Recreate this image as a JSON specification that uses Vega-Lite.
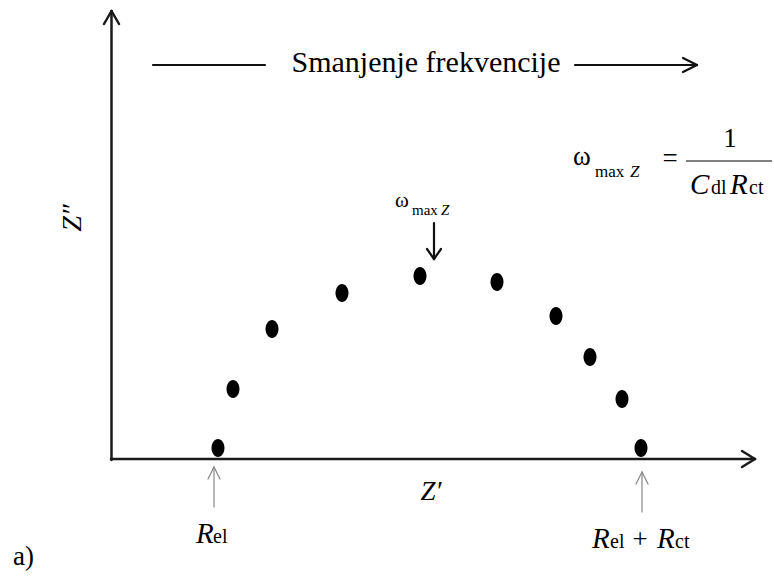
{
  "$schema": "https://vega.github.io/schema/vega-lite/v6.json",
  "width": 774,
  "height": 576,
  "autosize": {"type": "fit", "contains": "padding"},
  "padding": 0,
  "background": "white",
  "config": {"view": {"stroke": null}, "text": {"font": "Liberation Serif", "color": "black"}},
  "datasets": {
    "axes": [
      {"x": 111.5, "y": 460, "x2": 111.5, "y2": 11},
      {"x": 104, "y": 24, "x2": 111.5, "y2": 11},
      {"x": 119, "y": 24, "x2": 111.5, "y2": 11},
      {"x": 111, "y": 459, "x2": 755, "y2": 459},
      {"x": 742, "y": 451, "x2": 755, "y2": 459},
      {"x": 742, "y": 467, "x2": 755, "y2": 459}
    ],
    "toparrow": [
      {"x": 153, "y": 65, "x2": 265, "y2": 65},
      {"x": 575, "y": 65, "x2": 697, "y2": 65},
      {"x": 683, "y": 58, "x2": 697, "y2": 65},
      {"x": 683, "y": 72, "x2": 697, "y2": 65},
      {"x": 434, "y": 223, "x2": 434, "y2": 259},
      {"x": 427, "y": 249, "x2": 434, "y2": 259},
      {"x": 441, "y": 249, "x2": 434, "y2": 259}
    ],
    "grayarrows": [
      {"x": 214, "y": 467, "x2": 214, "y2": 507},
      {"x": 208, "y": 479, "x2": 214, "y2": 467},
      {"x": 220, "y": 479, "x2": 214, "y2": 467},
      {"x": 642, "y": 472, "x2": 642, "y2": 512},
      {"x": 636, "y": 484, "x2": 642, "y2": 472},
      {"x": 648, "y": 484, "x2": 642, "y2": 472}
    ],
    "fraction": [
      {"x": 686, "y": 161, "x2": 772, "y2": 161}
    ],
    "points": [
      {"x": 218, "y": 448},
      {"x": 233, "y": 389},
      {"x": 272, "y": 329},
      {"x": 342, "y": 293},
      {"x": 420, "y": 276},
      {"x": 497, "y": 282},
      {"x": 556, "y": 316},
      {"x": 590, "y": 357},
      {"x": 622, "y": 399},
      {"x": 641, "y": 448}
    ],
    "title": [
      {"x": 426, "y": 72, "t": "Smanjenje frekvencije"}
    ],
    "upright27": [
      {"x": 670, "y": 167, "t": "="},
      {"x": 730, "y": 147, "t": "1"},
      {"x": 640, "y": 548, "t": "+"}
    ],
    "label_a": [
      {"x": 13, "y": 565, "t": "a)"}
    ],
    "omega_big": [
      {"x": 573, "y": 165, "t": "ω"}
    ],
    "omega_small": [
      {"x": 395, "y": 207, "t": "ω"}
    ],
    "max_big": [
      {"x": 595, "y": 177, "t": "max"}
    ],
    "maxZ_big": [
      {"x": 630, "y": 177, "t": "Z"}
    ],
    "max_small": [
      {"x": 412, "y": 215, "t": "max"}
    ],
    "maxZ_small": [
      {"x": 441, "y": 215, "t": "Z"}
    ],
    "italic29": [
      {"x": 196, "y": 543, "t": "R"},
      {"x": 592, "y": 548, "t": "R"},
      {"x": 657, "y": 548, "t": "R"},
      {"x": 690, "y": 194, "t": "C"},
      {"x": 730, "y": 194, "t": "R"}
    ],
    "subs": [
      {"x": 213, "y": 543, "t": "el"},
      {"x": 610, "y": 548, "t": "el"},
      {"x": 675, "y": 548, "t": "ct"},
      {"x": 711, "y": 194, "t": "dl"},
      {"x": 749, "y": 194, "t": "ct"}
    ],
    "zprime": [
      {"x": 431, "y": 500, "t": "Z′"}
    ],
    "zdouble": [
      {"x": 73, "y": 218, "t": "Z″"}
    ]
  },
  "encoding": {
    "x": {"field": "x", "type": "quantitative", "scale": {"domain": [0, 774], "nice": false, "zero": false}, "axis": null},
    "y": {"field": "y", "type": "quantitative", "scale": {"domain": [0, 576], "nice": false, "zero": false, "reverse": true}, "axis": null}
  },
  "layer": [
    {
      "data": {"name": "axes"},
      "mark": {"type": "rule", "color": "#1a1a1a", "strokeWidth": 2.5, "strokeCap": "round"},
      "encoding": {"x2": {"field": "x2"}, "y2": {"field": "y2"}}
    },
    {
      "data": {"name": "toparrow"},
      "mark": {"type": "rule", "color": "#111", "strokeWidth": 2.2, "strokeCap": "round"},
      "encoding": {"x2": {"field": "x2"}, "y2": {"field": "y2"}}
    },
    {
      "data": {"name": "grayarrows"},
      "mark": {"type": "rule", "color": "#888", "strokeWidth": 1.2, "strokeCap": "round"},
      "encoding": {"x2": {"field": "x2"}, "y2": {"field": "y2"}}
    },
    {
      "data": {"name": "fraction"},
      "mark": {"type": "rule", "color": "#555", "strokeWidth": 1.3},
      "encoding": {"x2": {"field": "x2"}, "y2": {"field": "y2"}}
    },
    {
      "data": {"name": "points"},
      "mark": {"type": "point", "filled": true, "color": "black", "opacity": 1, "size": 324, "shape": "M0,-1A0.72,1,0,1,1,0,1A0.72,1,0,1,1,0,-1Z"}
    },
    {
      "data": {"name": "title"},
      "mark": {"type": "text", "font": "Liberation Serif", "fontSize": 30, "align": "center", "baseline": "alphabetic"},
      "encoding": {"text": {"field": "t"}}
    },
    {
      "data": {"name": "upright27"},
      "mark": {"type": "text", "font": "Liberation Serif", "fontSize": 27, "align": "center", "baseline": "alphabetic"},
      "encoding": {"text": {"field": "t"}}
    },
    {
      "data": {"name": "label_a"},
      "mark": {"type": "text", "font": "Liberation Serif", "fontSize": 27, "align": "left", "baseline": "alphabetic"},
      "encoding": {"text": {"field": "t"}}
    },
    {
      "data": {"name": "omega_big"},
      "mark": {"type": "text", "font": "Liberation Serif", "fontSize": 27, "align": "left", "baseline": "alphabetic"},
      "encoding": {"text": {"field": "t"}}
    },
    {
      "data": {"name": "omega_small"},
      "mark": {"type": "text", "font": "Liberation Serif", "fontSize": 21, "align": "left", "baseline": "alphabetic"},
      "encoding": {"text": {"field": "t"}}
    },
    {
      "data": {"name": "max_big"},
      "mark": {"type": "text", "font": "Liberation Serif", "fontSize": 17, "align": "left", "baseline": "alphabetic"},
      "encoding": {"text": {"field": "t"}}
    },
    {
      "data": {"name": "maxZ_big"},
      "mark": {"type": "text", "font": "Liberation Serif", "fontSize": 17, "fontStyle": "italic", "align": "left", "baseline": "alphabetic"},
      "encoding": {"text": {"field": "t"}}
    },
    {
      "data": {"name": "max_small"},
      "mark": {"type": "text", "font": "Liberation Serif", "fontSize": 15, "align": "left", "baseline": "alphabetic"},
      "encoding": {"text": {"field": "t"}}
    },
    {
      "data": {"name": "maxZ_small"},
      "mark": {"type": "text", "font": "Liberation Serif", "fontSize": 15, "fontStyle": "italic", "align": "left", "baseline": "alphabetic"},
      "encoding": {"text": {"field": "t"}}
    },
    {
      "data": {"name": "italic29"},
      "mark": {"type": "text", "font": "Liberation Serif", "fontSize": 29, "fontStyle": "italic", "align": "left", "baseline": "alphabetic"},
      "encoding": {"text": {"field": "t"}}
    },
    {
      "data": {"name": "subs"},
      "mark": {"type": "text", "font": "Liberation Serif", "fontSize": 20, "align": "left", "baseline": "alphabetic"},
      "encoding": {"text": {"field": "t"}}
    },
    {
      "data": {"name": "zprime"},
      "mark": {"type": "text", "font": "Liberation Serif", "fontSize": 27, "fontStyle": "italic", "align": "center", "baseline": "alphabetic"},
      "encoding": {"text": {"field": "t"}}
    },
    {
      "data": {"name": "zdouble"},
      "mark": {"type": "text", "font": "Liberation Serif", "fontSize": 28, "fontStyle": "italic", "align": "center", "baseline": "middle", "angle": 270},
      "encoding": {"text": {"field": "t"}}
    }
  ]
}
